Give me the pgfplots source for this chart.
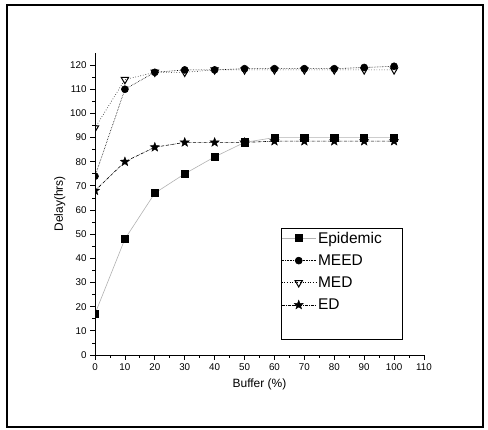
\documentclass[border=0pt]{standalone}
\usepackage{fontspec}
\setmainfont{Liberation Sans}
\usepackage{pgfplots}
\pgfplotsset{compat=1.18}

% filled five-pointed star
\pgfdeclareplotmark{fstar}{%
  \pgfpathmoveto{\pgfqpointpolar{90}{\pgfplotmarksize}}%
  \pgfpathlineto{\pgfqpointpolar{126}{0.42\pgfplotmarksize}}%
  \pgfpathlineto{\pgfqpointpolar{162}{\pgfplotmarksize}}%
  \pgfpathlineto{\pgfqpointpolar{198}{0.42\pgfplotmarksize}}%
  \pgfpathlineto{\pgfqpointpolar{234}{\pgfplotmarksize}}%
  \pgfpathlineto{\pgfqpointpolar{270}{0.42\pgfplotmarksize}}%
  \pgfpathlineto{\pgfqpointpolar{306}{\pgfplotmarksize}}%
  \pgfpathlineto{\pgfqpointpolar{342}{0.42\pgfplotmarksize}}%
  \pgfpathlineto{\pgfqpointpolar{18}{\pgfplotmarksize}}%
  \pgfpathlineto{\pgfqpointpolar{54}{0.42\pgfplotmarksize}}%
  \pgfpathclose
  \pgfusepathqfillstroke}

\begin{document}
\begin{tikzpicture}
\useasboundingbox (0pt,0pt) rectangle (488pt,430pt);
\draw[line width=2pt] (7pt,3pt) rectangle (483pt,425pt);
\begin{axis}[
  at={(95pt,75pt)}, anchor=south west,
  scale only axis,
  width=329pt, height=302pt,
  xmin=0, xmax=110, ymin=0, ymax=125,
  xtick={0,10,...,110},
  ytick={0,10,...,120},
  minor tick num=1,
  axis lines*=left,
  axis line style={line width=0.8pt},
  tick align=outside,
  major tick length=5pt,
  minor tick length=3pt,
  every tick/.style={line width=0.8pt, black},
  /pgf/number format/assume math mode=true,
  tick label style={font=\fontsize{9.8}{11}\selectfont},
  xlabel={Buffer (\%)},
  ylabel={Delay(hrs)},
  label style={font=\fontsize{12}{14}\selectfont},
  xlabel style={yshift=-1pt},
  ylabel style={yshift=-2pt},
  clip marker paths=true,
  legend style={at={(axis cs:62.2,52.6)}, anchor=north west,
    draw=black, line width=0.8pt,
    font=\fontsize{15.5}{17}\selectfont,
    inner xsep=0pt, inner ysep=1.5pt,
    row sep=6pt},
  legend cell align=left,
  legend image code/.code={%
    \draw[mark repeat=2, mark phase=2] plot coordinates {(0pt,0pt) (17pt,0pt) (34pt,0pt)};},
]
\addplot[gray!60, line width=0.6pt, mark=square*, mark size=3.6pt,
  mark options={solid, fill=black, draw=black}] coordinates {
  (0,17) (10,48) (20,67) (30,75) (40,82) (50,88)
  (60,90) (70,90) (80,90) (90,90) (100,90)
};
\addlegendentry{Epidemic}
\addplot[black, densely dotted, line width=0.6pt, mark=*, mark size=3.5pt,
  mark options={solid, fill=black}] coordinates {
  (0,74) (10,110) (20,117) (30,118) (40,118) (50,118.5)
  (60,118.5) (70,118.5) (80,118.5) (90,119) (100,119.5)
};
\addlegendentry{MEED}
\addplot[black, dotted, line width=0.6pt, mark=triangle, mark size=4.2pt,
  mark options={solid, fill=white, rotate=180, line width=1pt}] coordinates {
  (0,94) (10,114) (20,117) (30,117) (40,118) (50,118)
  (60,118) (70,118) (80,118) (90,118) (100,118)
};
\addlegendentry{MED}
\addplot[black, densely dashdotted, line width=0.6pt, mark=fstar, mark size=4.8pt,
  mark options={solid, fill=black, line width=0.4pt}] coordinates {
  (0,68) (10,80) (20,86) (30,88) (40,88) (50,88)
  (60,88.5) (70,88.5) (80,88.5) (90,88.5) (100,88.5)
};
\addlegendentry{ED}
\addlegendimage{empty legend}
\addlegendentry{\rule{82pt}{0pt}\rule{0pt}{13pt}}
\end{axis}
\end{tikzpicture}
\end{document}
